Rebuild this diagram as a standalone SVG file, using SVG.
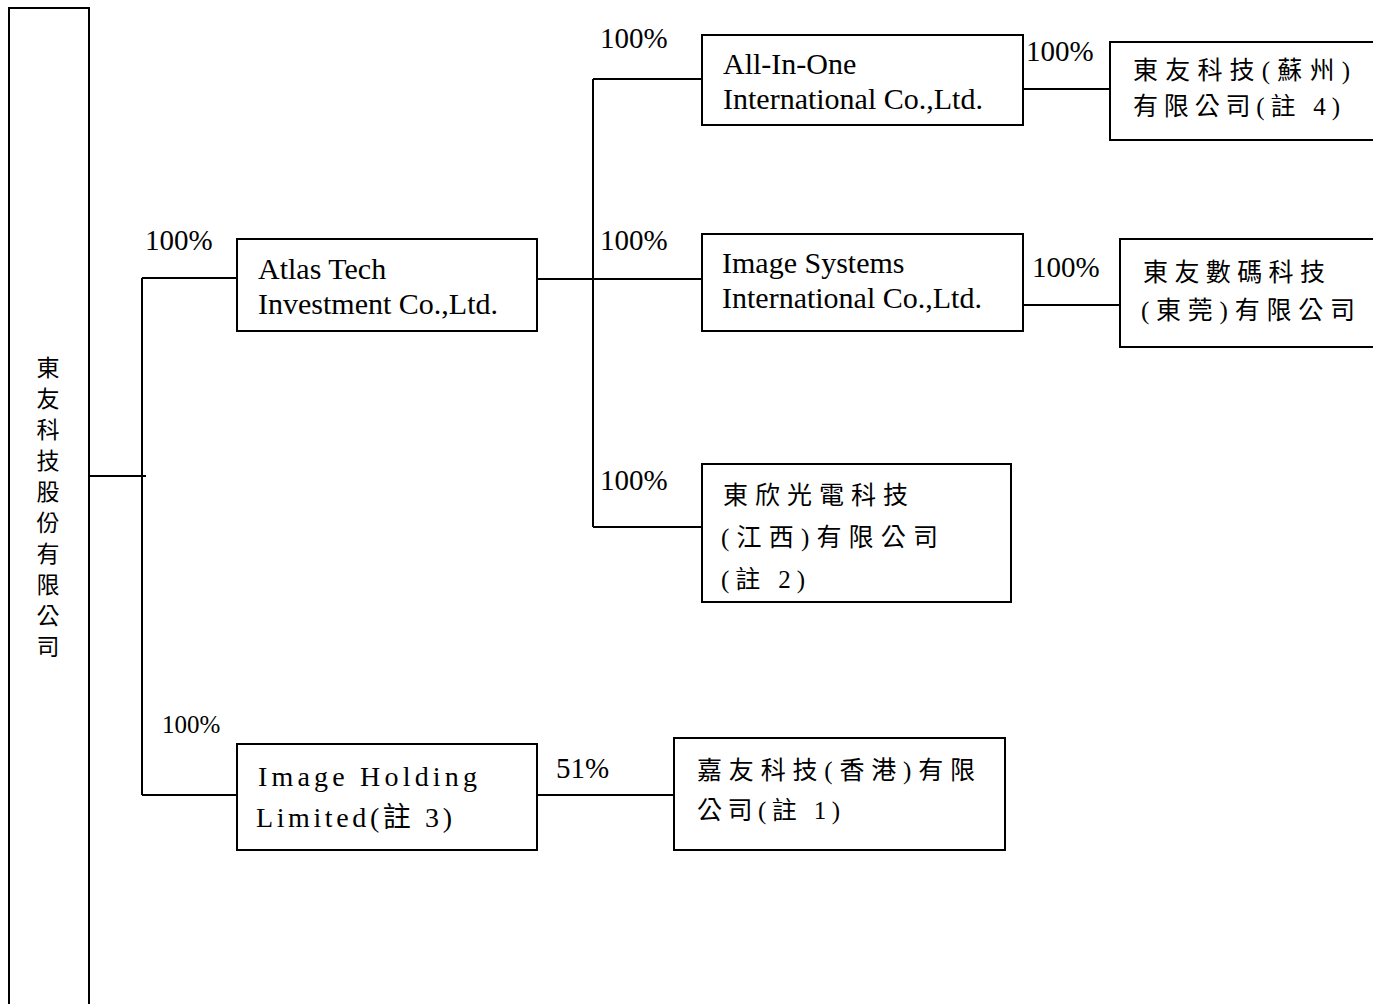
<svg xmlns="http://www.w3.org/2000/svg" width="1373" height="1004" viewBox="0 0 1373 1004">
<style>
.box{fill:#fff;stroke:#000;stroke-width:2}
.ln{stroke:#000;stroke-width:2;fill:none}
.en{font-family:"Liberation Serif","Times New Roman",serif;font-size:30px;fill:#000}
.pc{font-family:"Liberation Serif","Times New Roman",serif;font-size:29px;fill:#000}
.cj{font-family:"Liberation Serif","Noto Sans CJK TC",serif;font-size:25px;fill:#000}
.vt{font-family:"Noto Sans CJK TC",sans-serif;font-size:23px;fill:#000;text-anchor:middle}
</style>
<rect width="1373" height="1004" fill="#fff"/>
<g id="connectors">
<path class="ln" d="M89 476H146"/>
<path class="ln" d="M142 278V795"/>
<path class="ln" d="M142 278H237"/>
<path class="ln" d="M142 795H237"/>
<path class="ln" d="M537 279H702"/>
<path class="ln" d="M593 79V527"/>
<path class="ln" d="M593 79H702"/>
<path class="ln" d="M593 527H702"/>
<path class="ln" d="M1023 89H1110"/>
<path class="ln" d="M1023 305H1120"/>
<path class="ln" d="M537 795H674"/>
<text class="pc" x="145" y="250">100%</text>
<text class="pc" x="162" y="733" style="font-size:25px">100%</text>
<text class="pc" x="600" y="48">100%</text>
<text class="pc" x="600" y="250">100%</text>
<text class="pc" x="600" y="490">100%</text>
<text class="pc" x="1026" y="61">100%</text>
<text class="pc" x="1032" y="277">100%</text>
<text class="pc" x="556" y="778">51%</text>
</g>
<g id="parent">
<rect class="box" x="9" y="8" width="80" height="1010"/>
<text class="vt" x="48" y="376">東</text>
<text class="vt" x="48" y="407">友</text>
<text class="vt" x="48" y="438">科</text>
<text class="vt" x="48" y="469">技</text>
<text class="vt" x="48" y="500">股</text>
<text class="vt" x="48" y="531">份</text>
<text class="vt" x="48" y="562">有</text>
<text class="vt" x="48" y="593">限</text>
<text class="vt" x="48" y="624">公</text>
<text class="vt" x="48" y="655">司</text>
</g>
<g id="atlas">
<rect class="box" x="237" y="239" width="300" height="92"/>
<text class="en" x="258" y="279">Atlas Tech</text>
<text class="en" x="258" y="314">Investment Co.,Ltd.</text>
</g>
<g id="allinone">
<rect class="box" x="702" y="35" width="321" height="90"/>
<text class="en" x="723" y="74">All-In-One</text>
<text class="en" x="723" y="109">International Co.,Ltd.</text>
</g>
<g id="suzhou">
<rect class="box" x="1110" y="42" width="275" height="98"/>
<text class="cj" x="1133" y="79" textLength="217" lengthAdjust="spacing">東友科技(蘇州)</text>
<text class="cj" x="1133" y="115" textLength="207" lengthAdjust="spacing">有限公司(註 4)</text>
</g>
<g id="imagesys">
<rect class="box" x="702" y="234" width="321" height="97"/>
<text class="en" x="722" y="273">Image Systems</text>
<text class="en" x="722" y="308">International Co.,Ltd.</text>
</g>
<g id="dongguan">
<rect class="box" x="1120" y="239" width="265" height="108"/>
<text class="cj" x="1143" y="281" textLength="182" lengthAdjust="spacing">東友數碼科技</text>
<text class="cj" x="1141" y="319" textLength="214" lengthAdjust="spacing">(東莞)有限公司</text>
</g>
<g id="jiangxi">
<rect class="box" x="702" y="464" width="309" height="138"/>
<text class="cj" x="723" y="504" textLength="185" lengthAdjust="spacing">東欣光電科技</text>
<text class="cj" x="721" y="546" textLength="217" lengthAdjust="spacing">(江西)有限公司</text>
<text class="cj" x="721" y="588" textLength="84" lengthAdjust="spacing">(註 2)</text>
</g>
<g id="imageholding">
<rect class="box" x="237" y="744" width="300" height="106"/>
<text class="cj" x="258" y="786" style="font-size:28px" textLength="219" lengthAdjust="spacing">Image  Holding</text>
<text class="cj" x="256" y="827" style="font-size:28px" textLength="196" lengthAdjust="spacing">Limited(註 3)</text>
</g>
<g id="hk">
<rect class="box" x="674" y="738" width="331" height="112"/>
<text class="cj" x="697" y="779" textLength="278" lengthAdjust="spacing">嘉友科技(香港)有限</text>
<text class="cj" x="697" y="819" textLength="143" lengthAdjust="spacing">公司(註 1)</text>
</g>
</svg>
